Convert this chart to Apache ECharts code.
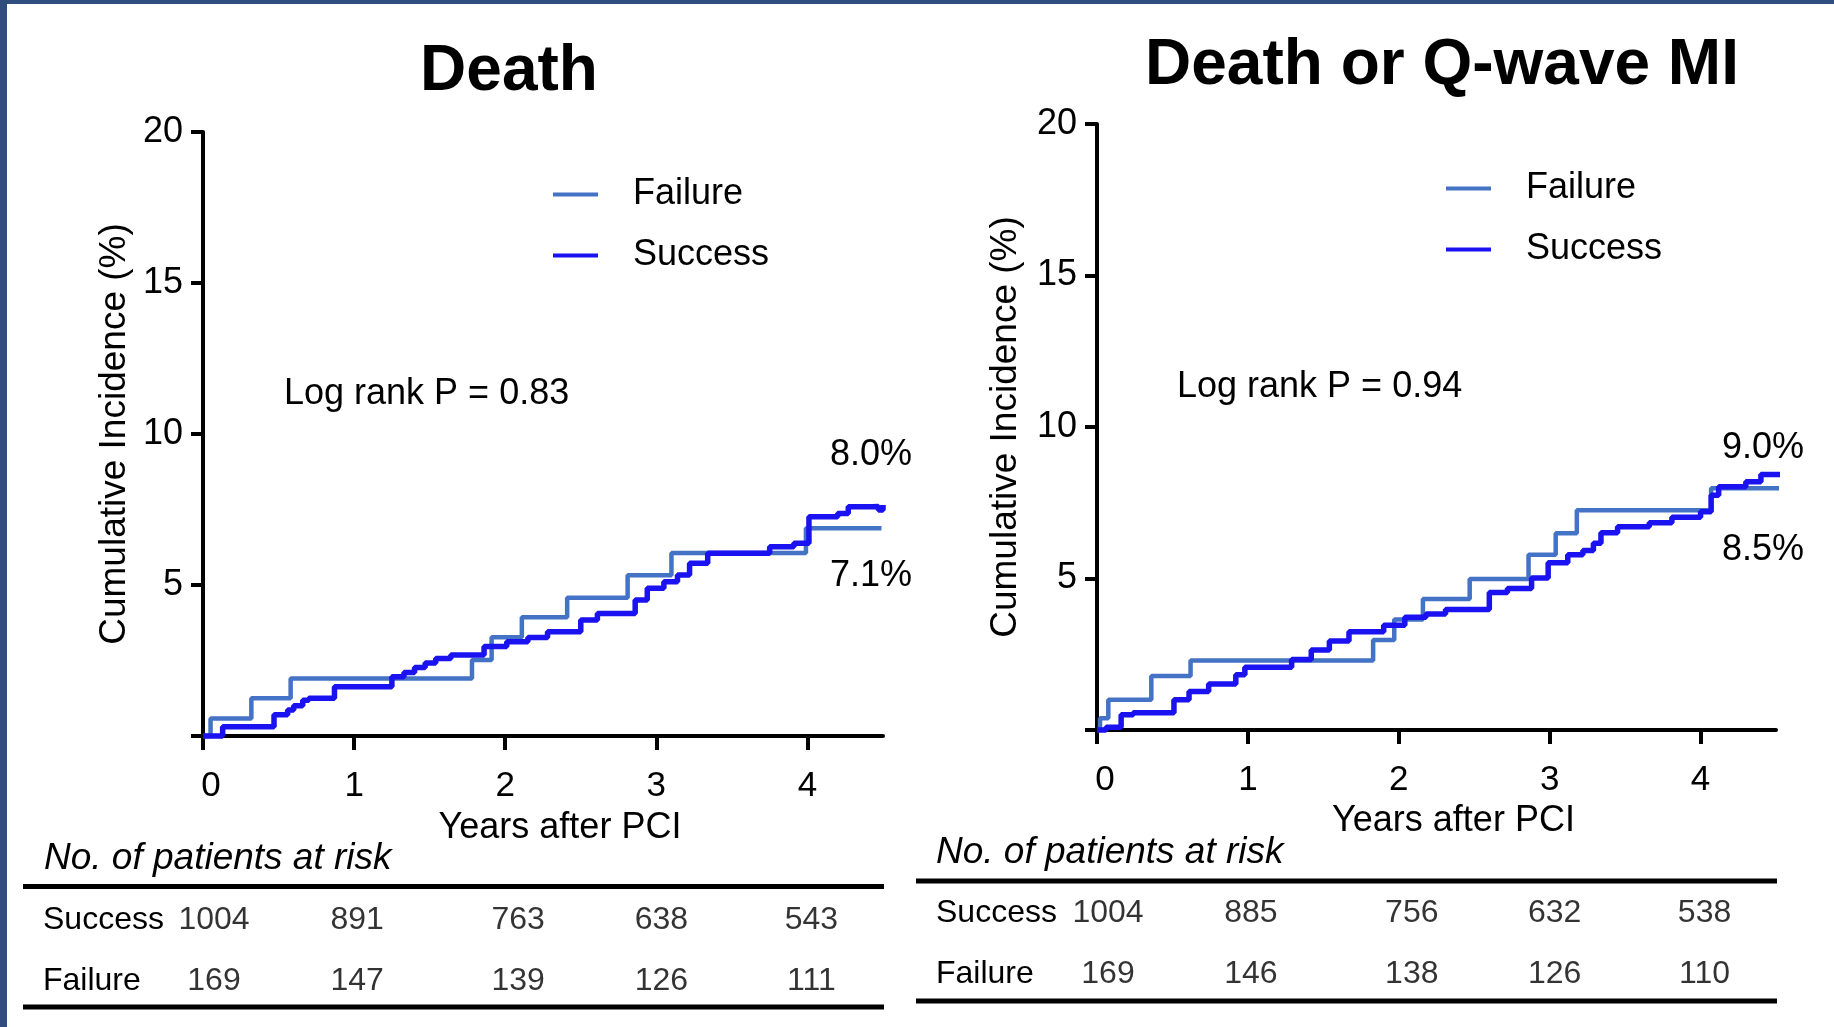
<!DOCTYPE html>
<html>
<head>
<meta charset="utf-8">
<script src="https://cdn.jsdelivr.net/npm/echarts@6/dist/echarts.min.js"></script>
<style>
  html, body { margin: 0; padding: 0; background: #fff; }
  #main { width: 1834px; height: 1027px; }
</style>
</head>
<body>
<div id="main"></div>
<script>
// 数据：[年, 累积发生率%]
var deathFailure = [[0,0],[0.05,0.58],[0.32,1.25],[0.58,1.9],[1.78,2.52],[1.91,3.27],[2.11,3.93],[2.41,4.58],[2.81,5.32],[3.10,6.06],[3.99,6.88],[4.49,6.88]];
var deathSuccess = [[0,0],[0.13,0.31],[0.47,0.7],[0.56,0.86],[0.6,1.0],[0.66,1.18],[0.7,1.25],[0.87,1.63],[1.25,1.96],[1.33,2.1],[1.40,2.27],[1.47,2.42],[1.54,2.57],[1.64,2.68],[1.86,2.96],[2.01,3.12],[2.15,3.26],[2.28,3.45],[2.50,3.84],[2.61,4.06],[2.86,4.5],[2.94,4.89],[3.05,5.11],[3.14,5.33],[3.22,5.72],[3.34,6.05],[3.75,6.27],[3.91,6.38],[4.01,7.26],[4.2,7.37],[4.27,7.59],[4.43,7.6],[4.47,7.48],[4.5,7.65]];
var mirFailure = [[0,0],[0.02,0.39],[0.075,1.0],[0.36,1.78],[0.62,2.29],[1.83,2.97],[1.97,3.65],[2.16,4.32],[2.47,4.98],[2.86,5.78],[3.04,6.49],[3.18,7.25],[4.07,7.98],[4.6,7.95]];
var mirSuccess = [[0,0],[0.06,0.09],[0.16,0.5],[0.24,0.57],[0.51,1.0],[0.61,1.27],[0.74,1.52],[0.92,1.82],[0.98,2.07],[1.29,2.33],[1.42,2.64],[1.54,2.94],[1.67,3.24],[1.9,3.46],[2.04,3.72],[2.18,3.83],[2.31,3.98],[2.6,4.54],[2.72,4.67],[2.88,5.02],[2.99,5.52],[3.12,5.78],[3.22,5.92],[3.29,6.16],[3.34,6.51],[3.45,6.71],[3.66,6.84],[3.81,7.02],[4.0,7.2],[4.07,7.75],[4.12,8.03],[4.3,8.19],[4.4,8.43],[4.62,8.43]];

// 风险人数表
var riskYears = [0, 1, 2, 3, 4];
var riskRows = ['Success', 'Failure'];
var deathSuccessRisk = [1004, 891, 763, 638, 543];
var deathFailureRisk = [169, 147, 139, 126, 111];
var mirSuccessRisk = [1004, 885, 756, 632, 538];
var mirFailureRisk = [169, 146, 138, 126, 110];

// 刻度
var xTicks = [0, 1, 2, 3, 4];
var yTicks = [0, 5, 10, 15, 20];
var yLabels = [5, 10, 15, 20];

var FONT = '"Liberation Sans", Arial, sans-serif';
var FAIL_COLOR = '#4472c4';
var SUCC_COLOR = '#1a12f0';
// 每列数字的水平微调(px)
var colShift = [11, 3, 13, 5, 4];

var myChart = echarts.init(document.getElementById('main'));

function xAxisOf(grid, nameGap) {
	return {
		type: 'value', gridIndex: grid, min: 0, max: 4.5,
		name: 'Years after PCI', nameLocation: 'middle', nameGap: nameGap,
		nameTextStyle: { fontFamily: FONT, fontSize: 36, color: '#000', lineHeight: 36, padding: [0, 0, 0, 34] },
		axisLine: { lineStyle: { color: '#000', width: 4 } },
		axisTick: { length: 14, lineStyle: { color: '#000', width: 4 }, customValues: xTicks },
		axisLabel: {
			fontFamily: FONT, fontSize: 35, color: '#000', margin: 33, customValues: xTicks,
			formatter: function (v) { return v === 0 ? '{z|0}' : String(v); },
			rich: { z: { fontFamily: FONT, fontSize: 35, color: '#000', padding: [0, 0, 0, 16] } }
		},
		splitLine: { show: false }
	};
}
function yAxisOf(grid, nameGap) {
	return {
		type: 'value', gridIndex: grid, min: 0, max: 20, interval: 5,
		name: 'Cumulative Incidence (%)', nameLocation: 'middle', nameGap: nameGap, nameRotate: 90,
		nameTextStyle: { fontFamily: FONT, fontSize: 37, color: '#000', lineHeight: 37 },
		axisLine: { show: true, lineStyle: { color: '#000', width: 4 } },
		axisTick: { show: true, length: 12, lineStyle: { color: '#000', width: 4 }, customValues: yTicks },
		axisLabel: { fontFamily: FONT, fontSize: 36, color: '#000', margin: 20, customValues: yLabels },
		splitLine: { show: false }
	};
}
function tableX(grid) {
	return { type: 'value', gridIndex: grid, min: 0, max: 4.5, show: false };
}
function tableY(grid, margin) {
	return {
		type: 'category', gridIndex: grid, data: riskRows, inverse: true,
		axisLine: { show: false }, axisTick: { show: false }, splitLine: { show: false },
		axisLabel: { fontFamily: FONT, fontSize: 32, color: '#000', align: 'left', margin: margin }
	};
}
function curve(name, data, axis, color, width) {
	return {
		name: name, type: 'line', step: 'end', data: data,
		xAxisIndex: axis, yAxisIndex: axis, symbol: 'none', showSymbol: false, clip: false,
		itemStyle: { color: color }, lineStyle: { color: color, width: width }
	};
}
function riskSeries(counts, row, axis) {
	var pts = [];
	for (var i = 0; i < riskYears.length; i++) {
		pts.push({
			value: [riskYears[i], row, counts[i]],
			label: { offset: [colShift[i], 0] }
		});
	}
	return {
		type: 'scatter', data: pts, xAxisIndex: axis, yAxisIndex: axis,
		symbolSize: 1, itemStyle: { color: 'rgba(0,0,0,0)' }, silent: true,
		label: { show: true, position: 'inside', formatter: function (p) { return p.value[2]; },
			fontFamily: FONT, fontSize: 32, color: '#000' }
	};
}
function legendOf(left, top) {
	return {
		data: ['Failure', 'Success'], orient: 'vertical', left: left, top: top, padding: 0,
		icon: 'rect', itemWidth: 45, itemHeight: 4, itemGap: 14,
		itemStyle: { borderWidth: 0 },
		textStyle: { fontFamily: FONT, fontSize: 36, color: '#000', lineHeight: 40, padding: [7, 0, 0, 30] }
	};
}
function txt(x, y, s, size, align, extra) {
	var st = { text: s, fontFamily: FONT, fontSize: size, fill: '#000', align: align, verticalAlign: 'middle' };
	if (extra) for (var k in extra) st[k] = extra[k];
	return { type: 'text', x: x, y: y, style: st, silent: true };
}
function rule(x1, x2, y) {
	return { type: 'line', shape: { x1: x1, y1: y, x2: x2, y2: y }, style: { stroke: '#000', lineWidth: 5 }, silent: true };
}

option = {
	animation: false,
	backgroundColor: '#fff',
	grid: [
		{ left: 203, top: 132, width: 680, height: 604 },
		{ left: 1097, top: 124, width: 679, height: 606 },
		{ left: 203, top: 890, width: 680, height: 122 },
		{ left: 1097, top: 883, width: 679, height: 122 }
	],
	xAxis: [xAxisOf(0, 74), xAxisOf(1, 72), tableX(2), tableX(3)],
	yAxis: [yAxisOf(0, 70), yAxisOf(1, 73), tableY(2, 160), tableY(3, 161)],
	legend: [legendOf(553, 171), legendOf(1446, 165)],
	series: [
		curve('Failure', deathFailure, 0, FAIL_COLOR, 4.5),
		curve('Success', deathSuccess, 0, SUCC_COLOR, 5.5),
		curve('Failure', mirFailure, 1, FAIL_COLOR, 4.5),
		curve('Success', mirSuccess, 1, SUCC_COLOR, 5.5),
		riskSeries(deathSuccessRisk, 0, 2),
		riskSeries(deathFailureRisk, 1, 2),
		riskSeries(mirSuccessRisk, 0, 3),
		riskSeries(mirFailureRisk, 1, 3)
	],
	graphic: [
		// 外框
		{ type: 'rect', shape: { x: 0, y: 0, width: 7, height: 1027 }, style: { fill: '#2f4e7e' }, silent: true },
		{ type: 'rect', shape: { x: 0, y: 0, width: 1834, height: 4 }, style: { fill: '#2f4e7e' }, silent: true },
		txt(509, 72, 'Death', 64, 'center', { fontWeight: 'bold' }),
		txt(1442, 66, 'Death or Q-wave MI', 64, 'center', { fontWeight: 'bold' }),
		txt(284, 394, 'Log rank P = 0.83', 36, 'left'),
		txt(1177, 387, 'Log rank P = 0.94', 36, 'left'),
		txt(871, 455, '8.0%', 36, 'center'),
		txt(871, 576, '7.1%', 36, 'center'),
		txt(1763, 448, '9.0%', 36, 'center'),
		txt(1763, 550, '8.5%', 36, 'center'),
		txt(44, 859, 'No. of patients at risk', 37, 'left', { fontStyle: 'italic' }),
		txt(936, 853, 'No. of patients at risk', 37, 'left', { fontStyle: 'italic' }),
		rule(23, 884, 886.5), rule(23, 884, 1007),
		rule(916, 1777, 881), rule(916, 1777, 1001)
	]
};
myChart.setOption(option);
</script>
</body>
</html>
